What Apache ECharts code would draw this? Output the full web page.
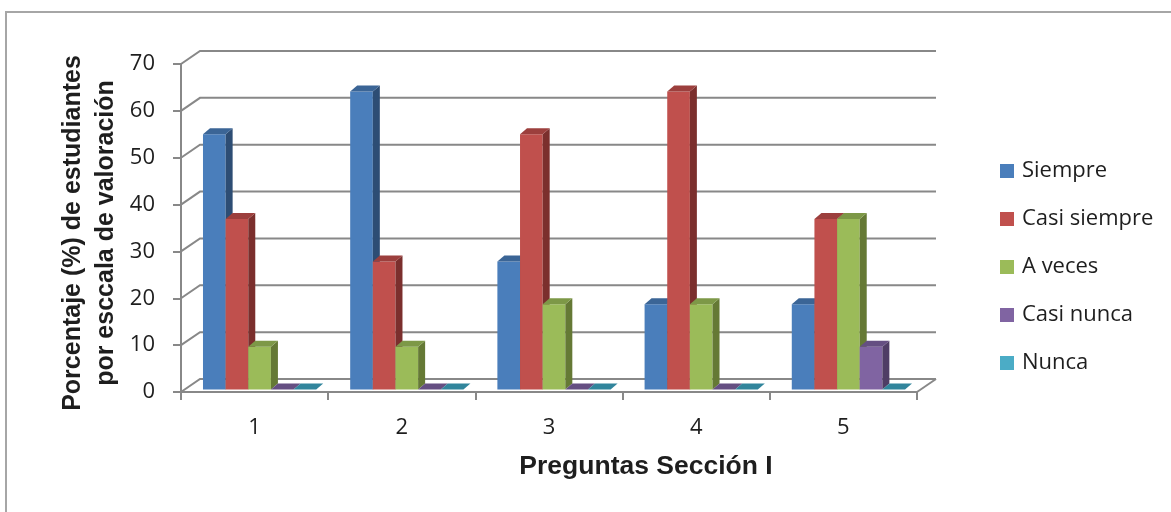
<!DOCTYPE html>
<html>
<head>
<meta charset="utf-8">
<script src="https://cdn.jsdelivr.net/npm/echarts@6/dist/echarts.min.js"></script>
<style>
  html, body { margin: 0; padding: 0; background: #ffffff; }
  #chart { width: 1171px; height: 512px; }
</style>
</head>
<body>
<div id="chart"></div>
<script>
// Questions of section I
const categories = ['1', '2', '3', '4', '5'];

// Percentage of students per rating level
const siempre     = [54.5, 63.6, 27.3, 18.2, 18.2];
const casiSiempre = [36.4, 27.3, 54.5, 63.6, 36.4];
const aVeces      = [9.1, 9.1, 18.2, 18.2, 36.4];
const casiNunca   = [0, 0, 0, 0, 9.1];
const nunca       = [0, 0, 0, 0, 0];

const seriesNames = ['Siempre', 'Casi siempre', 'A veces', 'Casi nunca', 'Nunca'];
const yTicks = [0, 10, 20, 30, 40, 50, 60, 70];

// Face shading of each prism: front, top, side
const faces = [
  { front: '#4a7ebb', top: '#3b6596', side: '#2d4d74' },
  { front: '#c0504d', top: '#9c3f3d', side: '#7b2f2d' },
  { front: '#9bbb59', top: '#7d9847', side: '#657935' },
  { front: '#8064a2', top: '#654f82', side: '#4f3d65' },
  { front: '#4bacc6', top: '#31859c', side: '#2e7487' }
];

const WALL_DEPTH = [19, -13];   // offset of the back wall from the front plane
const BAR_SHIFT = [5, -2.5];    // bars stand a little behind the front plane
const BAR_DEPTH = [7, -6];      // thickness of each prism
const GAP_RATIO = 1.5;          // gap between clusters, in bar widths
const GRID_COLOR = '#888888';
const TEXT_COLOR = '#1e1e1e';

const seriesValues = [siempre, casiSiempre, aVeces, casiNunca, nunca];
const nSeries = seriesValues.length;

// Back wall gridlines, left wall diagonals and floor outline
function renderWalls(params, api) {
  const v = api.value(1);
  const p = api.coord([0, v]);
  const band = api.size([1, 0])[0];
  const left = p[0] - band / 2;
  const right = api.coord([categories.length - 1, v])[0] + band / 2;
  const y = p[1];
  const children = [{
    type: 'polyline',
    shape: { points: [[left, y], [left + WALL_DEPTH[0], y + WALL_DEPTH[1]], [right + WALL_DEPTH[0], y + WALL_DEPTH[1]]] },
    style: { stroke: GRID_COLOR, lineWidth: 2, fill: null }
  }];
  if (v === 0) {
    children.push({
      type: 'line',
      shape: { x1: right, y1: y, x2: right + WALL_DEPTH[0], y2: y + WALL_DEPTH[1] },
      style: { stroke: GRID_COLOR, lineWidth: 2 }
    });
  }
  return { type: 'group', children: children };
}

// One 3D prism per data point
function barRenderer(k) {
  const face = faces[k];
  return function (params, api) {
    const cat = api.value(0);
    const v = api.value(1);
    const base = api.coord([cat, 0]);
    const top = api.coord([cat, v]);
    const band = api.size([1, 0])[0];
    const bw = band / (nSeries + GAP_RATIO);
    const x0 = base[0] - bw * nSeries / 2 + k * bw + BAR_SHIFT[0];
    const x1 = x0 + bw;
    const yb = base[1] + BAR_SHIFT[1];
    const yt = top[1] + BAR_SHIFT[1];
    const dx = BAR_DEPTH[0], dy = BAR_DEPTH[1];
    const children = [];
    if (yb - yt > 0.5) {
      children.push({
        type: 'rect',
        shape: { x: x0, y: yt, width: bw, height: yb - yt },
        style: { fill: face.front }
      });
      children.push({
        type: 'polygon',
        shape: { points: [[x1, yb], [x1 + dx, yb + dy], [x1 + dx, yt + dy], [x1, yt]] },
        style: { fill: face.side }
      });
    }
    children.push({
      type: 'polygon',
      shape: { points: [[x0, yt], [x1, yt], [x1 + dx, yt + dy], [x0 + dx, yt + dy]] },
      style: { fill: face.top }
    });
    return { type: 'group', children: children };
  };
}

const series = [{
  type: 'custom',
  name: 'walls',
  silent: true,
  renderItem: renderWalls,
  data: yTicks.map(function (v) { return [0, v]; }),
  z: 1
}];

seriesValues.forEach(function (vals, k) {
  series.push({
    type: 'custom',
    name: seriesNames[k],
    itemStyle: { color: faces[k].front },
    renderItem: barRenderer(k),
    data: vals.map(function (v, i) { return [i, v]; }),
    z: 2
  });
});

const chart = echarts.init(document.getElementById('chart'), null, { renderer: 'canvas' });

chart.setOption({
  backgroundColor: '#ffffff',
  animation: false,
  grid: { left: 181, right: 254, top: 64, bottom: 120, containLabel: false },
  xAxis: {
    type: 'category',
    data: categories,
    boundaryGap: true,
    axisLine: { show: true, lineStyle: { color: GRID_COLOR, width: 2 } },
    axisTick: { show: true, length: 8, lineStyle: { color: GRID_COLOR, width: 2 } },
    axisLabel: { margin: 25, fontFamily: 'Open Sans', fontSize: 22, color: TEXT_COLOR },
    splitLine: { show: false }
  },
  yAxis: {
    type: 'value',
    min: 0,
    max: 70,
    interval: 10,
    axisLine: { show: true, lineStyle: { color: GRID_COLOR, width: 2 } },
    axisTick: { show: true, length: 8, lineStyle: { color: GRID_COLOR, width: 2 } },
    axisLabel: { margin: 26, fontFamily: 'Open Sans', fontSize: 22, color: TEXT_COLOR, padding: [7, 0, 0, 0] },
    splitLine: { show: false }
  },
  legend: {
    data: seriesNames,
    orient: 'vertical',
    left: 1000,
    top: 160,
    padding: 0,
    icon: 'rect',
    itemWidth: 14,
    itemHeight: 14,
    itemGap: 26,
    selectedMode: false,
    textStyle: { fontFamily: 'Open Sans', fontSize: 22, lineHeight: 22, color: TEXT_COLOR, padding: [0, 0, 0, 3] }
  },
  graphic: [
    {
      type: 'rect',
      silent: true,
      z: -1,
      shape: { x: 6, y: 12, width: 1200, height: 600 },
      style: { fill: null, stroke: '#a6a6a6', lineWidth: 2 }
    },
    {
      type: 'text',
      x: 646,
      y: 467,
      style: {
        text: 'Preguntas Sección I',
        textAlign: 'center',
        textVerticalAlign: 'middle',
        fontFamily: 'Liberation Sans',
        fontWeight: 'bold',
        fontSize: 26.5,
        fill: TEXT_COLOR
      }
    },
    {
      type: 'text',
      x: 90,
      y: 233,
      rotation: Math.PI / 2,
      style: {
        text: 'Porcentaje (%) de estudiantes\npor esccala de valoración',
        textAlign: 'center',
        textVerticalAlign: 'middle',
        fontFamily: 'Liberation Sans',
        fontWeight: 'bold',
        fontSize: 25,
        lineHeight: 33,
        fill: TEXT_COLOR
      }
    }
  ],
  series: series
});
</script>
</body>
</html>
